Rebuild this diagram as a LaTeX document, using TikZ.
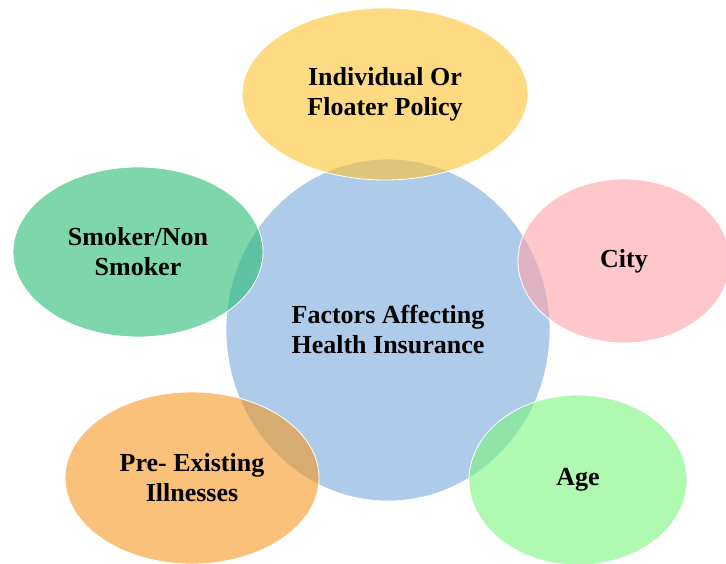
\documentclass[tikz,border=0pt]{standalone}
\usepackage{fontspec}
\setmainfont{Liberation Serif}
\usetikzlibrary{shapes.geometric}

\definecolor{hubblue}{RGB}{120,168,220}
\definecolor{policyyellow}{RGB}{253,195,47}
\definecolor{smokergreen}{RGB}{38,188,113}
\definecolor{citypink}{RGB}{255,162,165}
\definecolor{agegreen}{RGB}{123,245,123}
\definecolor{illorange}{RGB}{245,152,33}

\tikzset{
  bubble/.style={ellipse, draw=white, line width=0.8pt, fill opacity=0.6,
    text opacity=1, inner sep=0pt, align=center,
    font=\fontsize{26}{30}\selectfont\bfseries}
}

\begin{document}
\begin{tikzpicture}[x=1pt,y=1pt]
\useasboundingbox (0,0) rectangle (726,563);

% central hub
\node[bubble, fill=hubblue, minimum width=324pt, minimum height=342pt]
  (hub) at (388,233) {Factors Affecting\\Health Insurance};

% surrounding factors
\node[bubble, fill=policyyellow, minimum width=286pt, minimum height=172pt]
  (policy) at (385,469) {Individual Or\\Floater Policy};
\node[bubble, fill=smokergreen, minimum width=250pt, minimum height=170pt]
  (smoker) at (138,311) {Smoker/Non\\Smoker};
\node[bubble, fill=citypink, minimum width=212pt, minimum height=164pt]
  (city) at (624,302) {City};
\node[bubble, fill=agegreen, minimum width=218pt, minimum height=170pt]
  (age) at (578,83) {Age};
\node[bubble, fill=illorange, minimum width=254pt, minimum height=172pt]
  (ill) at (192,85) {Pre- Existing\\Illnesses};
\end{tikzpicture}
\end{document}
